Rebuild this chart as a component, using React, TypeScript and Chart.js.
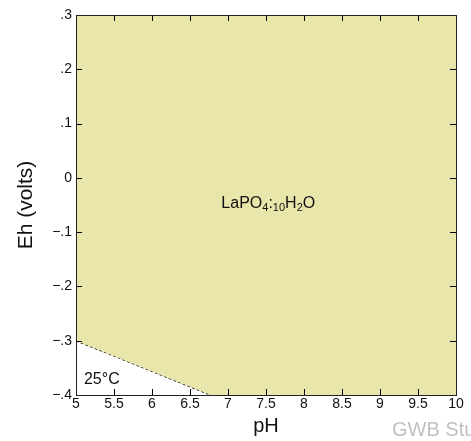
import React, { useEffect, useRef } from "react";
import { Chart, registerables } from "chart.js";

Chart.register(...registerables);

// Data
const xTicks = [5, 5.5, 6, 6.5, 7, 7.5, 8, 8.5, 9, 9.5, 10];
const yTicks = [-0.4, -0.3, -0.2, -0.1, 0, 0.1, 0.2, 0.3];
const boundaryPH = [5, 6.77];
const boundaryEh = [-0.3, -0.4];
const fieldPH = [5, 6.77, 10];
const fieldEh = [-0.3, -0.4, -0.4];
const fieldLabelPos = [7.53, -0.046];
const tempLabelPos = [5.34, -0.372];
const tempLabel = "25°C";
const xTitle = "pH";
const yTitle = "Eh (volts)";
const watermark = "GWB Student";

const FONT = "'Liberation Sans', Arial, sans-serif";

function fmtY(v: number): string {
  const n = Math.round(v * 10);
  if (n === 0) return "0";
  return (n < 0 ? "\u2212" : "") + "." + Math.abs(n);
}

const decorPlugin = {
  id: "decor",
  afterDatasetsDraw(chart: any) {
    const { ctx, chartArea, scales } = chart;
    const xs = scales.x;
    const ys = scales.y;
    ctx.save();
    // inward ticks
    ctx.strokeStyle = "#000";
    ctx.lineWidth = 1;
    const L = 6;
    ctx.beginPath();
    for (const t of xTicks) {
      const px = Math.round(xs.getPixelForValue(t)) + 0.5;
      ctx.moveTo(px, chartArea.bottom);
      ctx.lineTo(px, chartArea.bottom - L);
      ctx.moveTo(px, chartArea.top);
      ctx.lineTo(px, chartArea.top + L);
    }
    for (const t of yTicks) {
      const py = Math.round(ys.getPixelForValue(t)) + 0.5;
      ctx.moveTo(chartArea.left, py);
      ctx.lineTo(chartArea.left + L, py);
      ctx.moveTo(chartArea.right, py);
      ctx.lineTo(chartArea.right - L, py);
    }
    ctx.stroke();
    // frame
    ctx.strokeStyle = "#222";
    ctx.strokeRect(
      Math.round(chartArea.left) + 0.5,
      Math.round(chartArea.top) + 0.5,
      Math.round(chartArea.right - chartArea.left),
      Math.round(chartArea.bottom - chartArea.top)
    );
    // field label with subscripts
    ctx.fillStyle = "#111";
    ctx.textBaseline = "alphabetic";
    const big = "16px " + FONT;
    const small = "11px " + FONT;
    const parts: [string, boolean][] = [
      ["LaPO", false],
      ["4", true],
      [":", false],
      ["10", true],
      ["H", false],
      ["2", true],
      ["O", false],
    ];
    let total = 0;
    for (const [s, sub] of parts) {
      ctx.font = sub ? small : big;
      total += ctx.measureText(s).width;
    }
    const cx = xs.getPixelForValue(fieldLabelPos[0]);
    const cy = ys.getPixelForValue(fieldLabelPos[1]) + 5;
    let x = cx - total / 2;
    for (const [s, sub] of parts) {
      ctx.font = sub ? small : big;
      ctx.fillText(s, x, sub ? cy + 3 : cy);
      x += ctx.measureText(s).width;
    }
    // temperature
    ctx.font = "16px " + FONT;
    ctx.textAlign = "center";
    ctx.textBaseline = "middle";
    ctx.fillText(tempLabel, xs.getPixelForValue(tempLabelPos[0]), ys.getPixelForValue(tempLabelPos[1]));
    // watermark
    ctx.font = "20px " + FONT;
    ctx.fillStyle = "#c0c0c0";
    ctx.textAlign = "left";
    ctx.textBaseline = "alphabetic";
    ctx.fillText(watermark, 392, 436);
    ctx.restore();
  },
};

export default function App() {
  const ref = useRef<HTMLCanvasElement>(null);
  useEffect(() => {
    document.body.style.margin = "0";
    const canvas = ref.current!;
    const chart = new Chart(canvas, {
      type: "line",
      data: {
        datasets: [
          {
            data: fieldPH.map((p, i) => ({ x: p, y: fieldEh[i] })),
            fill: "end",
            backgroundColor: "rgb(232,230,170)",
            borderWidth: 0,
            borderColor: "rgba(0,0,0,0)",
            pointRadius: 0,
            tension: 0,
          },
          {
            data: boundaryPH.map((p, i) => ({ x: p, y: boundaryEh[i] })),
            fill: false,
            borderColor: "#000",
            borderWidth: 1.2,
            borderDash: [3, 2],
            pointRadius: 0,
            tension: 0,
          },
        ],
      },
      options: {
        animation: false,
        responsive: false,
        events: [],
        layout: { padding: { top: 15, right: 15, left: 0, bottom: 0 } },
        plugins: { legend: { display: false }, tooltip: { enabled: false } },
        scales: {
          x: {
            type: "linear",
            min: 5,
            max: 10,
            afterBuildTicks: (s: any) => {
              s.ticks = xTicks.map((v) => ({ value: v }));
            },
            afterFit: (s: any) => {
              s.height = 46;
            },
            grid: { display: false, drawTicks: false },
            border: { display: false },
            ticks: {
              font: { family: FONT, size: 14 },
              color: "#111",
              padding: 1,
              maxRotation: 0,
              autoSkip: false,
              callback: (v: any) => String(v),
            },
            title: {
              display: true,
              text: xTitle,
              font: { family: FONT, size: 20 },
              color: "#111",
              padding: { top: 3, bottom: 3 },
            },
          },
          y: {
            type: "linear",
            min: -0.4,
            max: 0.3,
            afterBuildTicks: (s: any) => {
              s.ticks = yTicks.map((v) => ({ value: v }));
            },
            afterFit: (s: any) => {
              s.width = 76;
            },
            grid: { display: false, drawTicks: false },
            border: { display: false },
            ticks: {
              font: { family: FONT, size: 14 },
              color: "#111",
              padding: 4,
              autoSkip: false,
              callback: (v: any) => fmtY(v),
            },
            title: {
              display: true,
              text: yTitle,
              font: { family: FONT, size: 21 },
              color: "#111",
              padding: { top: 14, bottom: 0 },
            },
          },
        },
      },
      plugins: [decorPlugin],
    } as any);
    return () => chart.destroy();
  }, []);
  return (
    <div style={{ position: "absolute", left: 0, top: 0, width: 471, height: 441 }}>
      <canvas ref={ref} width={471} height={441} style={{ display: "block" }} />
    </div>
  );
}
